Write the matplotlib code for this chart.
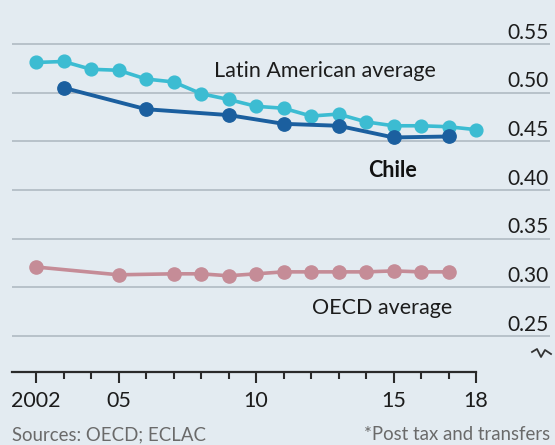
import matplotlib.pyplot as plt
from matplotlib.lines import Line2D

plt.rcParams['font.family'] = ['Lato', 'DejaVu Sans']

# data
latam_years = list(range(2002, 2019))
latam = [0.531, 0.532, 0.524, 0.523, 0.514, 0.511, 0.499, 0.493, 0.486,
         0.484, 0.476, 0.478, 0.470, 0.466, 0.466, 0.465, 0.462]
chile_years = [2003, 2006, 2009, 2011, 2013, 2015, 2017]
chile = [0.505, 0.483, 0.477, 0.468, 0.466, 0.454, 0.455]
oecd_years = [2002, 2005, 2007, 2008, 2009, 2010, 2011, 2012, 2013, 2014, 2015, 2016, 2017]
oecd = [0.321, 0.313, 0.314, 0.314, 0.312, 0.314, 0.316, 0.316, 0.316, 0.316, 0.317, 0.316, 0.316]
grid_vals = [0.25, 0.30, 0.35, 0.40, 0.45, 0.50, 0.55]
major_years = [2002, 2005, 2010, 2015, 2018]
major_labels = ['2002', '05', '10', '15', '18']

bg = '#e3ebf1'
ink = '#1c1c1c'
W, H = 555, 445
fig = plt.figure(figsize=(W / 100, H / 100), dpi=100, facecolor=bg)
ax = fig.add_axes([12 / W, (H - 372) / H, (550 - 12) / W, (372 - 20) / H])
ax.set_facecolor(bg)

ax.set_xlim(2001.127, 2020.69)
ax.set_ylim(0.2132, 0.5746)

for v in grid_vals:
    ax.axhline(v, color='#b7c1c9', lw=1.4, zorder=1)
    ax.text(0.998, v + 0.0056, f'{v:.2f}', transform=ax.get_yaxis_transform(),
            ha='right', va='baseline', fontsize=15, color=ink)

ax.plot(oecd_years, oecd, color='#c58c97', lw=2.6, marker='o', ms=9.5, zorder=3)
ax.plot(latam_years, latam, color='#3cbcd2', lw=2.6, marker='o', ms=9.2, zorder=3)
ax.plot(chile_years, chile, color='#1b5f9f', lw=2.8, marker='o', ms=9.6, zorder=4)

ax.text(2008.47, 0.5158, 'Latin American average', fontsize=15.5, color=ink,
        ha='left', va='baseline')
ax.text(2014.07, 0.4137, 'Chile', fontsize=15.5, fontweight='bold', color='#111111',
        ha='left', va='baseline')
ax.text(2017.13, 0.273, 'OECD average', fontsize=15.5, color=ink,
        ha='right', va='baseline')

for s in ['top', 'right', 'left']:
    ax.spines[s].set_visible(False)
ax.spines['bottom'].set_bounds(2001.127, 2018)
ax.spines['bottom'].set_linewidth(1.6)
ax.spines['bottom'].set_color('#2a2a2a')

ax.set_yticks([])
ax.set_xticks(major_years)
ax.set_xticklabels(major_labels, fontsize=15.5, color=ink)
ax.set_xticks(range(2002, 2019), minor=True)
ax.tick_params(axis='x', which='major', direction='out', length=8, width=1.5,
               color='#2a2a2a', pad=6)
ax.tick_params(axis='x', which='minor', direction='out', length=5, width=1.5,
               color='#2a2a2a')

# axis-break mark
bx = [532, 537, 541, 545, 551]
by = [352, 349, 357, 350, 354]
fig.add_artist(Line2D([x / W for x in bx], [1 - y / H for y in by],
                      color='#333333', lw=1.3))

fig.text(12 / W, 5 / H, 'Sources: OECD; ECLAC', fontsize=13.4, color='#6a6a6a',
         ha='left', va='baseline')
fig.text(550 / W, 5 / H, '*Post tax and transfers', fontsize=13.4, color='#6a6a6a',
         ha='right', va='baseline')

fig.savefig('out.png', dpi=100, facecolor=bg)
